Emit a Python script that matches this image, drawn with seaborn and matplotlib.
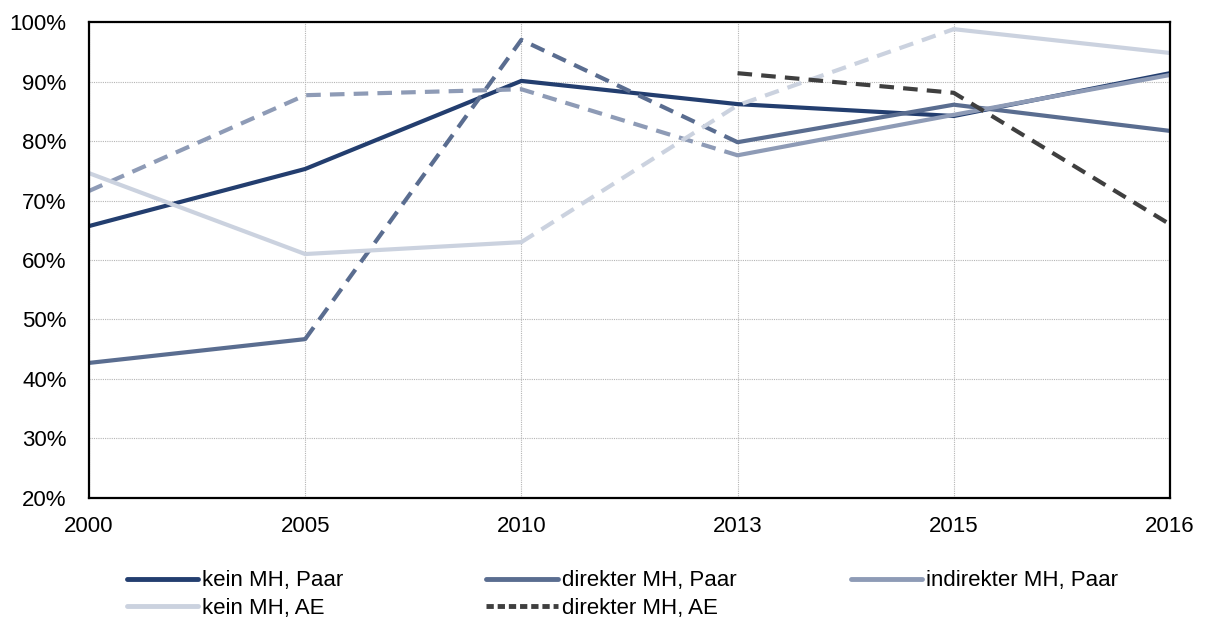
import matplotlib
matplotlib.use("Agg")
import matplotlib.pyplot as plt
from matplotlib.lines import Line2D
from matplotlib.ticker import PercentFormatter
import numpy as np
import pandas as pd
import seaborn as sns

# Data (share in %)
years = ["2000", "2005", "2010", "2013", "2015", "2016"]
kein_mh_paar = [65.7, 75.3, 90.1, 86.2, 84.2, 91.4]
direkter_mh_paar = [42.7, 46.7, 97.0, 79.8, 86.1, 81.7]
indirekter_mh_paar = [71.6, 87.7, 88.7, 77.6, 84.4, 91.1]
kein_mh_ae = [74.6, 61.0, 63.0, 86.0, 98.8, 94.8]
direkter_mh_ae = [np.nan, np.nan, np.nan, 91.4, 88.1, 66.0]

series_names = ["kein MH, Paar", "direkter MH, Paar", "indirekter MH, Paar",
                "kein MH, AE", "direkter MH, AE"]
series_values = [kein_mh_paar, direkter_mh_paar, indirekter_mh_paar,
                 kein_mh_ae, direkter_mh_ae]

# Styling: colours and which segments (start index of segment) are dashed
colors = ["#233e6f", "#5a6d90", "#8e9bb6", "#cbd2df", "#3f3f3f"]
dashed_segments = {
    "kein MH, Paar": [],
    "direkter MH, Paar": [1, 2],
    "indirekter MH, Paar": [0, 1, 2],
    "kein MH, AE": [2, 3],
    "direkter MH, AE": [3, 4],
}

sns.set_style("white")
plt.rcParams["font.family"] = ["Liberation Sans", "DejaVu Sans"]
plt.rcParams["text.color"] = "black"

fig = plt.figure(figsize=(12.07, 6.22), dpi=100)
ax = fig.add_axes([0.0737, 0.1994, 0.8956, 0.7652])

lw = 3.0
for name, vals, color in zip(series_names, series_values, colors):
    df = pd.DataFrame({"pos": np.arange(len(years)), "value": vals})
    # split into runs of equal line style
    runs = []
    for i in range(len(years) - 1):
        if np.isnan(vals[i]) or np.isnan(vals[i + 1]):
            continue
        dashed = i in dashed_segments[name]
        if runs and runs[-1][1] == i and runs[-1][2] == dashed:
            runs[-1][1] = i + 1
        else:
            runs.append([i, i + 1, dashed])
    for a, b, dashed in runs:
        part = df.iloc[a:b + 1]
        sns.lineplot(data=part, x="pos", y="value", ax=ax, color=color,
                     linewidth=lw, linestyle=(0, (3.5, 2.2)) if dashed else "-",
                     sort=False, estimator=None)

ax.set_xlim(0, len(years) - 1)
ax.set_ylim(20, 100)
ax.set_xticks(np.arange(len(years)))
ax.set_xticklabels(years)
ax.set_yticks(np.arange(20, 101, 10))
ax.yaxis.set_major_formatter(PercentFormatter(decimals=0))
ax.set_xlabel("")
ax.set_ylabel("")
ax.tick_params(axis="both", length=0, labelsize=16, colors="black")
ax.tick_params(axis="y", pad=16)
ax.tick_params(axis="x", pad=13)
ax.grid(True, color="#b5b5b5", linestyle=(0, (1, 1)), linewidth=0.8)
for side in ["left", "bottom", "top", "right"]:
    ax.spines[side].set_visible(True)
    ax.spines[side].set_color("black")
    ax.spines[side].set_linewidth(1.6)

# legend: one column per legend so the columns start where they do in the reference
legend_cols = [[0, 3], [1, 4], [2]]
col_x = [0.105, 0.403, 0.705]
for idx, x0 in zip(legend_cols, col_x):
    handles = []
    for i in idx:
        ls = (0, (1.5, 0.8)) if series_names[i] == "direkter MH, AE" else "-"
        handles.append(Line2D([0], [0], color=colors[i], linewidth=3.5, linestyle=ls))
    fig.legend(handles, [series_names[i] for i in idx], loc="upper left",
               bbox_to_anchor=(x0, 0.083), ncol=1,
               frameon=False, fontsize=16, handlelength=3.2,
               handletextpad=0.2, labelspacing=0.3, borderaxespad=0,
               borderpad=0, labelcolor="black")

fig.savefig("out.png", dpi=100)
